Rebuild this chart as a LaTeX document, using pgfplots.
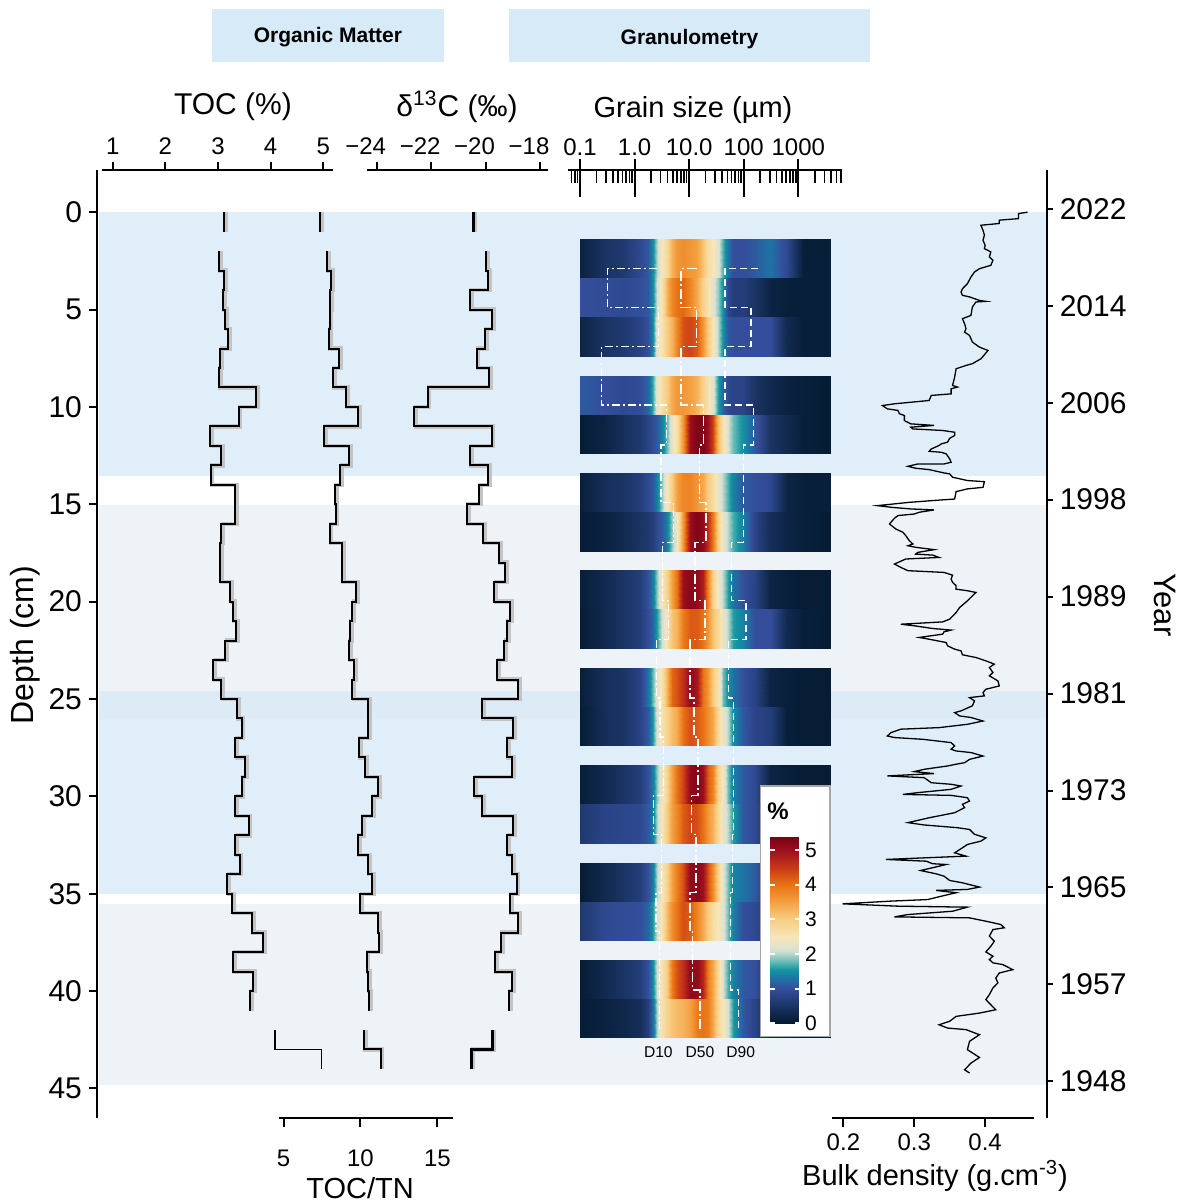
\documentclass[border=0pt]{standalone}
\usepackage{fontspec}
\setmainfont{Liberation Sans}
\usepackage{pgfplots}
\usepackage{pgfplotstable}
\pgfplotsset{compat=1.18}

\definecolor{bandblue}{RGB}{223,238,249}
\definecolor{bandgray}{RGB}{238,243,248}
\definecolor{bandmix}{RGB}{221,235,247}
\definecolor{headblue}{RGB}{214,234,248}
\definecolor{shadow}{RGB}{196,196,196}

\pgfplotsset{
  colormap={hm}{rgb255(0pt)=(4,26,48) rgb255(50pt)=(26,52,100) rgb255(100pt)=(52,78,156)
    rgb255(130pt)=(30,115,165) rgb255(155pt)=(20,150,160) rgb255(185pt)=(130,195,190)
    rgb255(210pt)=(215,225,210) rgb255(250pt)=(246,230,185) rgb255(300pt)=(248,205,130)
    rgb255(350pt)=(244,160,65) rgb255(400pt)=(232,115,20) rgb255(450pt)=(200,55,25)
    rgb255(500pt)=(155,15,30) rgb255(540pt)=(120,0,20)},
  panel/.style={scale only axis, height=474pt, ymin=-2.167, ymax=46.52, y dir=reverse,
    anchor=north west, axis line style={line width=1pt}, tick style={line width=1pt, black},
    tick align=outside, /pgf/number format/assume math mode=true,
    every tick label/.append style={font=\fontsize{12}{13}\selectfont}},
  blk/.style={black, line width=1pt, const plot mark right},
  shd/.style={shadow, line width=2.2pt, const plot mark right, xshift=0.8pt},
}

% grain-size spectra: one column per sampled layer, one line per size class (um)
\pgfplotstableread{
x r1 r2 r3 r4 r5 r6 r7 r8 r9 r10 r11 r12 r13 r14 r15 r16 r17
0.1 0.15 1.0 0.2 1.1 0.05 0.1 0.05 0.1 0.05 0.1 0.05 0.1 0.6 0.05 0.6 0.05 0.05
0.287 0.5 0.95 0.5 1.0 0.2 0.4 0.15 0.3 0.3 0.4 0.4 0.3 0.8 0.3 0.9 0.3 0.15
0.622 0.6 0.9 0.6 0.9 0.4 0.5 0.3 0.5 0.5 0.5 0.5 0.5 0.85 0.5 0.95 0.5 0.25
1.26 0.9 1.0 0.8 0.95 0.6 0.7 0.5 0.7 0.7 0.8 0.8 0.7 0.9 0.7 1.0 0.7 0.4
1.79 1.1 1.1 1.0 1.2 0.8 0.9 0.6 1.0 0.95 1.3 1.1 1.0 1.1 1.0 1.2 1.0 0.7
2.21 1.5 1.5 1.5 1.7 0.95 1.1 0.7 1.4 1.2 1.8 1.6 1.4 1.4 1.4 1.6 1.5 1.3
2.62 2.0 2.1 2.3 2.3 1.1 1.4 0.9 1.9 1.6 2.3 2.2 1.9 2.0 2.0 2.1 2.1 2.0
3.14 2.5 2.6 2.6 2.7 1.4 1.9 1.1 2.5 2.1 2.6 2.6 2.4 2.5 2.5 2.6 2.6 2.6
3.88 2.8 3.3 3.0 3.0 1.8 2.5 1.4 2.9 2.6 3.3 2.9 2.9 3.0 2.9 3.2 3.0 2.9
4.79 3.3 3.8 3.3 3.4 2.3 3.0 1.9 3.5 3.1 4.1 3.2 3.5 3.5 3.5 3.7 3.9 3.1
5.92 3.6 4.0 3.8 3.6 2.7 3.5 2.4 4.0 3.3 4.3 3.4 4.0 3.8 3.9 4.0 4.3 3.2
7.84 3.7 4.1 4.3 3.6 3.6 3.8 3.6 5.0 3.9 4.6 4.0 4.4 4.2 4.3 4.3 4.6 3.3
10.4 3.6 3.8 4.4 3.5 5.0 3.8 5.0 5.2 4.2 5.1 4.3 5.1 4.4 5.1 4.2 5.1 3.5
13.7 3.5 3.4 4.2 3.3 5.3 3.6 5.3 5.1 4.2 4.9 4.2 5.3 4.3 5.2 3.8 5.1 3.9
18.2 3.1 2.9 3.6 2.9 5.3 3.4 5.1 4.8 4.0 4.0 4.0 5.0 4.0 5.0 3.4 4.7 4.0
22.5 2.7 2.6 3.0 2.6 5.0 3.0 4.6 3.8 3.6 3.6 3.7 4.2 3.6 4.3 3.0 3.9 3.9
27.8 2.5 2.2 2.5 2.2 4.4 2.7 3.9 2.9 3.1 3.0 3.4 3.8 3.3 3.7 2.7 3.4 3.4
34.3 2.2 1.9 2.0 1.6 3.2 2.3 2.9 2.4 2.8 2.6 2.8 2.9 2.8 2.9 2.5 2.8 2.8
42.4 1.7 1.5 1.5 1.2 2.6 2.0 2.3 2.0 2.3 1.8 2.3 2.4 2.3 2.2 2.2 2.1 2.5
52.3 1.3 0.9 1.1 0.9 2.1 1.7 2.0 1.6 2.0 1.5 2.0 1.8 2.0 1.8 1.8 1.7 2.1
64.6 1.0 0.7 1.0 0.8 1.8 1.4 1.7 1.3 1.6 1.3 1.5 1.4 1.6 1.4 1.4 1.4 1.6
98.6 1.0 0.7 1.0 0.8 1.5 1.1 1.4 1.0 1.4 1.0 1.1 1.1 1.1 1.3 1.0 1.1 1.1
161 1.1 0.5 1.0 0.5 1.1 1.0 0.8 0.8 1.0 0.8 0.8 0.9 0.9 1.1 0.9 1.0 0.8
303 1.3 0.2 1.0 0.3 0.5 0.9 0.4 0.2 1.0 0.2 0.7 0.2 0.4 0.5 0.6 0.5 0.3
613 0.9 0.1 0.3 0.15 0.3 0.2 0.2 0.1 0.3 0.1 0.1 0.1 0.1 0.2 0.2 0.2 0.1
1240 0.1 0.1 0.1 0.1 0.1 0.1 0.1 0.05 0.1 0.05 0.05 0.05 0.05 0.1 0.1 0.1 0.05
3930 0.1 0.1 0.1 0.05 0.05 0.1 0.05 0.05 0.05 0.05 0.05 0.05 0.05 0.05 0.05 0.05 0.05
}\grainA
% stack the table twice: first copy = top edge of a layer, second = bottom edge
\pgfplotstablevertcat{\grainD}{\grainA}
\pgfplotstablevertcat{\grainD}{\grainA}

\newcommand{\hmrow}[3]{%
  \addplot3[surf, shader=interp, mesh/cols=27] table[x=x, y expr={\coordindex<27 ? #1 : #2}, z=#3] {\grainD};}

\begin{document}
\begin{tikzpicture}

% depth axis and background zones
\begin{axis}[panel, at={(48.5pt,-85pt)}, width=474.85pt, xmin=0, xmax=1,
  hide x axis, axis y line*=left, axis on top, ytick={0,5,...,45}, major tick length=4pt,
  yticklabel style={font=\fontsize{15}{15}\selectfont}]
  \fill[bandblue] (axis cs:0.002,0) rectangle (axis cs:1,13.53);
  \fill[bandgray] (axis cs:0.002,15.03) rectangle (axis cs:1,24.58);
  \fill[bandmix] (axis cs:0.002,24.58) rectangle (axis cs:1,26.04);
  \fill[bandblue] (axis cs:0.002,26.04) rectangle (axis cs:1,35.04);
  \fill[bandgray] (axis cs:0.002,35.55) rectangle (axis cs:1,44.81);
\end{axis}

% year axis
\begin{axis}[panel, at={(48.5pt,-85pt)}, width=474.85pt, xmin=0, xmax=1,
  hide x axis, axis y line*=right, major tick length=3pt,
  ytick={-0.15,4.82,9.79,14.76,19.74,24.72,29.70,34.67,39.65,44.62},
  yticklabels={2022,2014,2006,1998,1989,1981,1973,1965,1957,1948},
  yticklabel style={font=\fontsize{15}{15}\selectfont}]
  \addplot[draw=none] coordinates {(0.5,0)};
\end{axis}

% grain-size heatmap
\begin{axis}[panel, at={(284.15pt,-85pt)}, width=136.7pt, xmode=log, xmin=0.0610, xmax=6242,
  hide axis, view={0}{90}, colormap name=hm, point meta min=0, point meta max=5.4]
  \hmrow{1.4}{3.4}{r1}
  \hmrow{3.4}{5.4}{r2}
  \hmrow{5.4}{7.4}{r3}
  \hmrow{8.4}{10.4}{r4}
  \hmrow{10.4}{12.4}{r5}
  \hmrow{13.4}{15.4}{r6}
  \hmrow{15.4}{17.4}{r7}
  \hmrow{18.4}{20.4}{r8}
  \hmrow{20.4}{22.4}{r9}
  \hmrow{23.4}{25.4}{r10}
  \hmrow{25.4}{27.4}{r11}
  \hmrow{28.4}{30.4}{r12}
  \hmrow{30.4}{32.4}{r13}
  \hmrow{33.4}{35.4}{r14}
  \hmrow{35.4}{37.4}{r15}
  \hmrow{38.4}{40.4}{r16}
  \hmrow{40.4}{42.4}{r17}
\end{axis}

% grain-size axis with D10 / D50 / D90
\begin{axis}[panel, at={(284.15pt,-85pt)}, width=136.7pt, xmode=log, xmin=0.0610, xmax=6242,
  axis x line*=top, hide y axis, tick align=center,
  xtick={0.1,1,10,100,1000}, xticklabels={0.1,1.0,10.0,100,1000},
  minor xtick={0.07,0.08,0.09,0.2,0.3,0.4,0.5,0.6,0.7,0.8,0.9,2,3,4,5,6,7,8,9,
    20,30,40,50,60,70,80,90,200,300,400,500,600,700,800,900,2000,3000,4000,5000,6000},
  major tick length=19pt, minor tick length=7pt,
  major tick style={yshift=-4pt}, minor tick style={yshift=-3pt, line width=0.8pt},
  xticklabel style={yshift=-6pt}]
  \addplot[white, line width=0.7pt, dash pattern=on 4pt off 1.5pt on 1pt off 1.5pt] coordinates {
    (2.54,2.9) (0.317,2.9) (0.317,4.9) (2.73,4.9) (2.73,6.9) (0.249,6.9) (0.249,9.9)
    (3.88,9.9) (3.88,11.95) (3.05,11.95) (3.05,14.9) (5.14,14.9) (5.14,16.95) (3.28,16.95)
    (3.28,19.95) (4.16,19.95) (4.16,21.95) (2.54,21.95) (2.54,24.95) (2.93,24.95) (2.93,26.95)
    (3.37,26.95) (3.37,29.95) (2.21,29.95) (2.21,31.95) (3.14,31.95) (3.14,34.95) (2.47,34.95)
    (2.47,36.95) (2.85,36.95) (2.85,41.95)};
  \addplot[white, line width=0.7pt, dash pattern=on 5pt off 1.5pt on 1pt off 1.5pt] coordinates {
    (13.7,2.9) (7.10,2.9) (7.10,4.9) (13.7,4.9) (13.7,6.9) (7.10,6.9) (7.10,9.9) (18.2,9.9)
    (18.2,11.95) (15.4,11.95) (15.4,14.9) (20.4,14.9) (20.4,16.95) (12.8,16.95) (12.8,19.95)
    (19.5,19.95) (19.5,21.95) (10.4,21.95) (10.4,24.95) (12.3,24.95) (12.3,26.95) (14.4,26.95)
    (14.4,29.95) (11.1,29.95) (11.1,31.95) (13.4,31.95) (13.4,34.95) (10.4,34.95) (10.4,36.95)
    (11.6,36.95) (11.6,39.95) (15.8,39.95) (15.8,41.95)};
  \addplot[white, line width=0.7pt, dash pattern=on 3.5pt off 2pt] coordinates {
    (185,2.9) (45.5,2.9) (45.5,4.9) (136,4.9) (136,6.9) (45.5,6.9) (45.5,9.9) (150,9.9)
    (150,11.95) (98.6,11.95) (98.6,16.95) (60.3,16.95) (60.3,19.95) (110,19.95) (110,21.95)
    (52.3,21.95) (52.3,24.95) (64.6,24.95) (64.6,31.95) (62.8,31.95) (62.8,34.95) (57.7,34.95)
    (57.7,39.95) (79.8,39.95) (79.8,41.95)};
\end{axis}

% colour key box
\fill[white] (380.35pt,-393pt) rectangle (415pt,-518.35pt);
\draw[gray!70, line width=0.6pt] (380.35pt,-393pt) rectangle (415pt,-518.35pt);
\node[font=\bfseries\fontsize{12}{12}\selectfont] at (389pt,-405.85pt) {\%};

\begin{axis}[hide axis, scale only axis, width=5pt, height=5pt, at={(385pt,-418.05pt)},
  anchor=north west, colormap name=hm, point meta min=0, point meta max=5.4, colorbar,
  colorbar style={at={(parent axis.north west)}, anchor=north west, xshift=-0.3cm, scale only axis,
    width=15pt, height=93.6pt, ytick={0,...,5}, tick align=inside, ytick pos=both,
    yticklabel pos=right, major tick length=2.5pt, tick style={white, line width=1pt},
    axis line style={draw=none},
    /pgf/number format/assume math mode=true,
    yticklabel style={font=\fontsize{10.5}{11}\selectfont, xshift=-1pt}}]
  \addplot[draw=none] coordinates {(0,0)};
\end{axis}

% TOC (%)
\begin{axis}[panel, at={(50.85pt,-85pt)}, width=115.8pt, xmin=0.791, xmax=5.19,
  axis x line*=top, hide y axis, xtick={1,...,5}, major tick length=4pt]
  \addplot[shd] coordinates {(3.12,0) (3.12,1)};
  \addplot[blk] coordinates {(3.12,0) (3.12,1)};
  \addplot[shd] coordinates {(3.02,2) (3.11,3) (3.09,4) (3.14,5) (3.19,6) (3.04,7) (3.02,8)
    (3.72,9) (3.39,10) (2.85,11) (3.06,12) (2.86,13) (3.33,14) (3.33,15) (3.06,16) (3.04,17)
    (3.04,18) (3.23,19) (3.28,20) (3.35,21) (3.14,22) (2.91,23) (3.06,24) (3.36,25) (3.45,26)
    (3.33,27) (3.51,28) (3.45,29) (3.33,30) (3.58,31) (3.33,32) (3.41,33) (3.18,34) (3.27,35)
    (3.64,36) (3.85,37) (3.29,38) (3.67,39) (3.61,40) (3.61,41)};
  \addplot[blk] coordinates {(3.02,2) (3.11,3) (3.09,4) (3.14,5) (3.19,6) (3.04,7) (3.02,8)
    (3.72,9) (3.39,10) (2.85,11) (3.06,12) (2.86,13) (3.33,14) (3.33,15) (3.06,16) (3.04,17)
    (3.04,18) (3.23,19) (3.28,20) (3.35,21) (3.14,22) (2.91,23) (3.06,24) (3.36,25) (3.45,26)
    (3.33,27) (3.51,28) (3.45,29) (3.33,30) (3.58,31) (3.33,32) (3.41,33) (3.18,34) (3.27,35)
    (3.64,36) (3.85,37) (3.29,38) (3.67,39) (3.61,40) (3.61,41)};
  \addplot[black, line width=0.7pt, const plot mark right] coordinates {(4.08,42) (4.97,43) (4.97,44)};
\end{axis}

% TOC/TN
\begin{axis}[panel, at={(139.5pt,-85pt)}, width=86.85pt, xmin=4.708, xmax=15.99,
  axis x line*=bottom, hide y axis, xtick={5,10,15}, major tick length=4.5pt,
  xticklabel style={yshift=-8pt}]
  \addplot[shd] coordinates {(7.39,0) (7.39,1)};
  \addplot[blk] coordinates {(7.39,0) (7.39,1)};
  \addplot[shd] coordinates {(7.82,2) (8.08,3) (8.04,4) (8.00,5) (7.95,6) (8.60,7) (8.21,8)
    (9.06,9) (9.82,10) (7.65,11) (9.25,12) (8.69,13) (8.34,14) (8.39,15) (8.00,16) (8.78,17)
    (8.78,18) (9.73,19) (9.47,20) (9.30,21) (9.25,22) (9.60,23) (9.47,24) (10.47,25) (10.51,26)
    (9.90,27) (10.29,28) (11.16,29) (10.77,30) (10.08,31) (9.82,32) (10.47,33) (10.77,34)
    (9.99,35) (11.16,36) (11.20,37) (10.40,38) (10.47,39) (10.55,40) (10.55,41)};
  \addplot[blk] coordinates {(7.82,2) (8.08,3) (8.04,4) (8.00,5) (7.95,6) (8.60,7) (8.21,8)
    (9.06,9) (9.82,10) (7.65,11) (9.25,12) (8.69,13) (8.34,14) (8.39,15) (8.00,16) (8.78,17)
    (8.78,18) (9.73,19) (9.47,20) (9.30,21) (9.25,22) (9.60,23) (9.47,24) (10.47,25) (10.51,26)
    (9.90,27) (10.29,28) (11.16,29) (10.77,30) (10.08,31) (9.82,32) (10.47,33) (10.77,34)
    (9.99,35) (11.16,36) (11.20,37) (10.40,38) (10.47,39) (10.55,40) (10.55,41)};
  \addplot[shd] coordinates {(10.21,42) (11.31,43) (11.31,44)};
  \addplot[blk] coordinates {(10.21,42) (11.31,43) (11.31,44)};
\end{axis}

% delta 13C
\begin{axis}[panel, at={(183.35pt,-85pt)}, width=90.8pt, xmin=-24.367, xmax=-17.695,
  axis x line*=top, hide y axis, xtick={-24,-22,-20,-18},
  xticklabels={−24,−22,−20,−18}, major tick length=4pt, xticklabel style={xshift=-5.5pt}]
  \addplot[shd] coordinates {(-20.45,0) (-20.45,1)};
  \addplot[blk, line width=1.6pt] coordinates {(-20.45,0) (-20.45,1)};
  \addplot[shd] coordinates {(-19.98,2) (-19.90,3) (-20.57,4) (-19.75,5) (-20.02,6) (-20.33,7)
    (-19.87,8) (-22.13,9) (-22.62,10) (-19.78,11) (-20.57,12) (-19.90,13) (-20.24,14) (-20.69,15)
    (-20.08,16) (-19.51,17) (-19.29,18) (-19.68,19) (-19.10,20) (-19.22,21) (-19.31,22)
    (-19.57,23) (-18.80,24) (-20.14,25) (-19.00,26) (-19.22,27) (-19.02,28) (-20.41,29)
    (-20.14,30) (-19.00,31) (-19.20,32) (-19.04,33) (-18.86,34) (-19.10,35) (-18.80,36)
    (-19.43,37) (-19.65,38) (-19.02,39) (-19.14,40) (-19.14,41)};
  \addplot[blk] coordinates {(-19.98,2) (-19.90,3) (-20.57,4) (-19.75,5) (-20.02,6) (-20.33,7)
    (-19.87,8) (-22.13,9) (-22.62,10) (-19.78,11) (-20.57,12) (-19.90,13) (-20.24,14) (-20.69,15)
    (-20.08,16) (-19.51,17) (-19.29,18) (-19.68,19) (-19.10,20) (-19.22,21) (-19.31,22)
    (-19.57,23) (-18.80,24) (-20.14,25) (-19.00,26) (-19.22,27) (-19.02,28) (-20.41,29)
    (-20.14,30) (-19.00,31) (-19.20,32) (-19.04,33) (-18.86,34) (-19.10,35) (-18.80,36)
    (-19.43,37) (-19.65,38) (-19.02,39) (-19.14,40) (-19.14,41)};
  \addplot[shd] coordinates {(-19.74,42) (-20.51,43) (-20.51,44)};
  \addplot[blk, line width=1.6pt] coordinates {(-19.74,42) (-20.51,43) (-20.51,44)};
\end{axis}

% bulk density
\begin{axis}[panel, at={(416pt,-85pt)}, width=101pt, xmin=0.1839, xmax=0.469,
  axis x line*=bottom, hide y axis, xtick={0.2,0.3,0.4}, major tick length=4.5pt]
  \addplot[black, line width=0.65pt] coordinates {
  (0.460,0.0) (0.447,0.07) (0.447,0.33) (0.420,0.41) (0.420,0.58) (0.394,0.67) (0.397,0.93)
  (0.399,1.18) (0.397,1.44) (0.400,1.70) (0.399,1.87) (0.408,2.04) (0.406,2.30) (0.411,2.47)
  (0.408,2.73) (0.392,2.90) (0.385,3.07) (0.380,3.33) (0.375,3.67) (0.368,3.93) (0.366,4.10)
  (0.368,4.27) (0.378,4.35) (0.392,4.53) (0.401,4.58) (0.387,4.61) (0.382,4.87) (0.380,5.30)
  (0.368,5.47) (0.371,5.73) (0.373,5.98) (0.371,6.16) (0.378,6.33) (0.382,6.67) (0.392,6.93)
  (0.404,7.10) (0.399,7.32) (0.394,7.53) (0.382,7.78) (0.373,7.87) (0.359,8.04) (0.357,8.47)
  (0.354,8.90) (0.361,8.98) (0.352,9.07) (0.352,9.33) (0.324,9.41) (0.321,9.67) (0.298,9.75)
  (0.272,9.84) (0.255,9.93) (0.262,10.10) (0.277,10.18) (0.279,10.35) (0.286,10.44)
  (0.286,10.70) (0.295,10.87) (0.328,10.95) (0.295,11.04) (0.298,11.13) (0.340,11.21)
  (0.357,11.30) (0.357,11.47) (0.350,11.61) (0.347,11.81) (0.338,11.90) (0.335,11.98)
  (0.324,12.16) (0.321,12.28) (0.338,12.33) (0.345,12.41) (0.350,12.67) (0.352,12.84)
  (0.342,12.93) (0.305,12.93) (0.291,13.05) (0.302,13.15) (0.321,13.22) (0.342,13.39)
  (0.350,13.44) (0.354,13.61) (0.375,13.78) (0.399,13.84) (0.397,14.13) (0.375,14.21)
  (0.359,14.35) (0.357,14.73) (0.326,14.81) (0.293,14.90) (0.248,15.07) (0.269,15.16)
  (0.295,15.24) (0.328,15.29) (0.307,15.41) (0.300,15.50) (0.277,15.58) (0.272,15.72)
  (0.265,16.01) (0.274,16.27) (0.284,16.44) (0.288,16.61) (0.293,16.87) (0.298,17.04)
  (0.291,17.13) (0.302,17.21) (0.328,17.33) (0.305,17.47) (0.302,17.56) (0.326,17.61)
  (0.335,17.73) (0.288,17.81) (0.272,18.07) (0.281,18.24) (0.291,18.41) (0.342,18.50)
  (0.354,18.64) (0.352,18.84) (0.354,19.01) (0.359,19.18) (0.359,19.36) (0.375,19.44)
  (0.387,19.53) (0.382,19.70) (0.375,19.96) (0.364,20.30) (0.359,20.56) (0.350,20.90)
  (0.340,21.04) (0.281,21.16) (0.300,21.24) (0.326,21.38) (0.352,21.46) (0.342,21.55)
  (0.340,21.67) (0.307,21.84) (0.321,21.93) (0.345,22.10) (0.347,22.27) (0.357,22.44)
  (0.366,22.53) (0.368,22.73) (0.387,22.87) (0.401,23.04) (0.413,23.21) (0.406,23.38)
  (0.411,23.64) (0.406,23.81) (0.418,24.07) (0.420,24.33) (0.401,24.50) (0.397,24.67)
  (0.399,24.84) (0.378,24.93) (0.385,25.10) (0.382,25.35) (0.366,25.61) (0.357,25.70)
  (0.364,25.87) (0.380,25.95) (0.397,26.13) (0.375,26.30) (0.335,26.47) (0.281,26.55)
  (0.267,26.73) (0.262,26.90) (0.272,26.98) (0.312,27.07) (0.352,27.24) (0.357,27.41)
  (0.352,27.58) (0.359,27.67) (0.380,27.75) (0.397,27.93) (0.378,28.10) (0.371,28.27)
  (0.359,28.35) (0.347,28.44) (0.314,28.61) (0.300,28.73) (0.328,28.83) (0.262,28.95)
  (0.314,29.04) (0.324,29.30) (0.352,29.38) (0.366,29.47) (0.352,29.64) (0.305,29.81)
  (0.284,29.90) (0.352,29.95) (0.375,30.07) (0.378,30.24) (0.368,30.41) (0.371,30.58)
  (0.357,30.84) (0.321,31.10) (0.291,31.35) (0.314,31.47) (0.361,31.61) (0.378,31.70)
  (0.385,31.95) (0.401,32.13) (0.394,32.30) (0.375,32.47) (0.368,32.64) (0.357,32.90)
  (0.373,33.07) (0.260,33.24) (0.317,33.33) (0.326,33.46) (0.345,33.50) (0.309,33.81)
  (0.331,33.98) (0.342,34.10) (0.350,34.32) (0.368,34.44) (0.392,34.66) (0.375,34.78)
  (0.331,34.83) (0.359,34.95) (0.338,35.13) (0.319,35.30) (0.267,35.38) (0.199,35.52)
  (0.277,35.64) (0.375,35.69) (0.354,35.90) (0.291,36.07) (0.272,36.19) (0.378,36.24)
  (0.406,36.45) (0.422,36.58) (0.427,36.75) (0.411,36.84) (0.406,37.18) (0.413,37.44)
  (0.408,37.70) (0.401,37.99) (0.411,38.21) (0.406,38.38) (0.411,38.55) (0.425,38.64)
  (0.439,38.90) (0.420,39.07) (0.415,39.33) (0.418,39.58) (0.411,39.84) (0.406,40.18)
  (0.401,40.44) (0.415,40.96) (0.392,41.13) (0.359,41.30) (0.350,41.55) (0.335,41.73)
  (0.347,41.90) (0.373,41.98) (0.392,42.24) (0.378,42.58) (0.375,43.01) (0.392,43.41)
  (0.380,43.70) (0.371,44.04) (0.378,44.21)};
\end{axis}

% titles and headers
\fill[headblue] (106.15pt,-4.5pt) rectangle (222pt,-30.85pt);
\node[font=\bfseries\fontsize{10.5}{11}\selectfont] at (164pt,-18.6pt) {Organic Matter};
\fill[headblue] (254.5pt,-4.5pt) rectangle (435pt,-30.85pt);
\node[font=\bfseries\fontsize{10.5}{11}\selectfont] at (344.75pt,-19.3pt) {Granulometry};

\node[font=\fontsize{15}{15}\selectfont] at (116.5pt,-53.35pt) {TOC (\%)};
\node[font=\fontsize{15}{15}\selectfont] at (228.5pt,-53.35pt) {δ\textsuperscript{13}C (‰)};
\node[font=\fontsize{14.5}{15}\selectfont] at (346.5pt,-55pt) {Grain size (µm)};
\node[font=\fontsize{14.5}{15}\selectfont] at (180pt,-594pt) {TOC/TN};
\node[font=\fontsize{14.5}{15}\selectfont] at (467.5pt,-588pt) {Bulk density (g.cm\textsuperscript{-3})};
\node[font=\fontsize{16}{16}\selectfont, rotate=90] at (12.5pt,-322.5pt) {Depth (cm)};
\node[font=\fontsize{15.5}{16}\selectfont, rotate=-90] at (582.5pt,-302.5pt) {Year};

\node[font=\fontsize{7.8}{8}\selectfont] at (329.15pt,-525.85pt) {D10};
\node[font=\fontsize{7.8}{8}\selectfont] at (350pt,-525.85pt) {D50};
\node[font=\fontsize{7.8}{8}\selectfont] at (370.35pt,-525.85pt) {D90};

\pgfresetboundingbox
\useasboundingbox (0pt,0pt) rectangle (593.5pt,-601pt);
\end{tikzpicture}
\end{document}
